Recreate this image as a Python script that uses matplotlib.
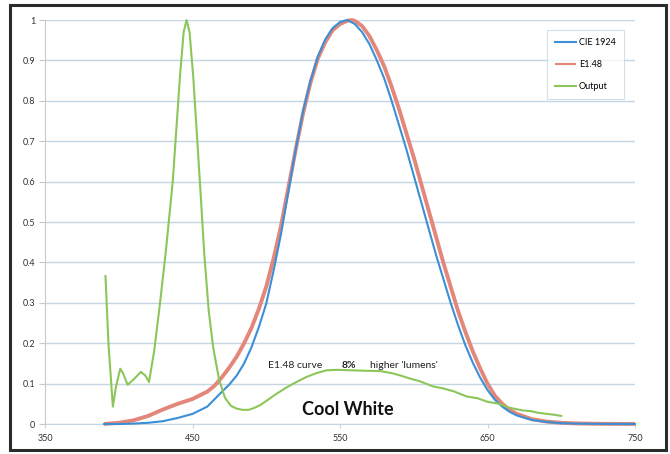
import matplotlib
matplotlib.use("Agg")
import matplotlib.pyplot as plt
from matplotlib.patches import Rectangle
from matplotlib.ticker import FuncFormatter

plt.rcParams['font.family'] = ['Lato', 'DejaVu Sans']

# CIE 1924 photopic curve
cie_wl = [390, 400, 410, 420, 430, 440, 450, 460, 470, 475, 480, 485, 490, 495,
          500, 505, 510, 515, 520, 525, 530, 535, 540, 545, 550, 555, 560, 565,
          570, 575, 580, 585, 590, 595, 600, 605, 610, 615, 620, 625, 630, 635,
          640, 645, 650, 655, 660, 665, 670, 680, 690, 700, 710, 720, 730, 740, 750]
cie_val = [0.0, 0.0, 0.001, 0.003, 0.007, 0.015, 0.025, 0.043, 0.08, 0.098, 0.12,
           0.15, 0.19, 0.24, 0.298, 0.38, 0.47, 0.575, 0.68, 0.775, 0.85, 0.91,
           0.952, 0.98, 0.995, 1.0, 0.99, 0.97, 0.94, 0.9, 0.855, 0.8, 0.74, 0.68,
           0.615, 0.55, 0.485, 0.42, 0.36, 0.3, 0.245, 0.195, 0.152, 0.115, 0.084,
           0.06, 0.043, 0.03, 0.021, 0.01, 0.005, 0.002, 0.001, 0.0005, 0.0002,
           0.0001, 0.0]

# E1.48 curve
e148_wl = [390, 400, 410, 420, 430, 440, 450, 460, 465, 470, 475, 480, 485, 490,
           495, 500, 505, 510, 515, 520, 525, 530, 535, 540, 545, 550, 555, 558,
           560, 565, 570, 575, 580, 585, 590, 595, 600, 605, 610, 615, 620, 625,
           630, 635, 640, 645, 650, 655, 660, 665, 670, 680, 690, 700, 710, 720,
           730, 740, 750]
e148_val = [0.0, 0.003, 0.009, 0.02, 0.036, 0.05, 0.062, 0.08, 0.095, 0.116, 0.14,
            0.167, 0.2, 0.238, 0.285, 0.34, 0.41, 0.49, 0.585, 0.68, 0.77, 0.845,
            0.905, 0.945, 0.975, 0.99, 0.998, 1.0, 0.998, 0.985, 0.96, 0.925,
            0.885, 0.835, 0.78, 0.72, 0.66, 0.595, 0.53, 0.465, 0.4, 0.34, 0.28,
            0.228, 0.18, 0.138, 0.1, 0.07, 0.05, 0.035, 0.025, 0.012, 0.006,
            0.003, 0.0015, 0.0008, 0.0004, 0.0002, 0.0001]

# Cool white LED output spectrum
out_wl = [391, 393, 396, 398, 401, 403, 406, 410, 415, 418, 420.5, 424, 428, 432,
          436.6, 441.5, 444, 446, 448, 450.5, 455, 458, 461, 464, 468, 472, 476,
          480, 484, 488, 492, 496, 500, 507, 514, 520, 527, 534, 541, 548, 557,
          565, 577, 585, 591, 597, 604, 613, 620, 627, 636, 643, 650, 658, 664,
          668, 673, 679, 684, 690, 695, 700]
out_val = [0.366, 0.2, 0.043, 0.09, 0.137, 0.125, 0.097, 0.11, 0.129, 0.12, 0.104,
           0.18, 0.30, 0.43, 0.6, 0.86, 0.97, 1.0, 0.97, 0.86, 0.6, 0.42, 0.28,
           0.19, 0.11, 0.065, 0.045, 0.038, 0.035, 0.035, 0.04, 0.047, 0.057,
           0.075, 0.091, 0.103, 0.116, 0.126, 0.133, 0.134, 0.133, 0.132, 0.131,
           0.126, 0.12, 0.113, 0.106, 0.093, 0.088, 0.081, 0.068, 0.064, 0.055,
           0.05, 0.041, 0.038, 0.034, 0.032, 0.028, 0.025, 0.023, 0.02]

x_ticks = [350, 450, 550, 650, 750]
y_ticks = [0, 0.1, 0.2, 0.3, 0.4, 0.5, 0.6, 0.7, 0.8, 0.9, 1.0]

fig = plt.figure(figsize=(6.7, 4.54), dpi=100)
ax = fig.add_axes([45 / 670, 30 / 454, 590 / 670, 404 / 454])

ax.plot(e148_wl, e148_val, color='#e3877a', lw=2.8, label='E1.48', zorder=3,
        clip_on=False, solid_capstyle='butt')
ax.plot(cie_wl, cie_val, color='#3b8fd6', lw=1.5, label='CIE 1924', zorder=4,
        clip_on=False)
ax.plot(out_wl, out_val, color='#8cc65a', lw=1.5, label='Output', zorder=5,
        clip_on=False)

ax.set_xlim(350, 750)
ax.set_ylim(0, 1)
ax.set_xticks(x_ticks)
ax.set_yticks(y_ticks)
ax.yaxis.set_major_formatter(FuncFormatter(lambda v, p: '%g' % v))

ax.grid(axis='y', color='#c4d5e3', lw=1.0, zorder=0)
ax.set_axisbelow(True)
for s in ['top', 'right']:
    ax.spines[s].set_visible(False)
ax.spines['left'].set_color('#c8c8c8')
ax.spines['bottom'].set_color('#c4d5e3')
ax.tick_params(axis='y', length=4, color='#c8c8c8', labelsize=6.5, labelcolor='#333333', pad=3)
ax.tick_params(axis='x', length=3, color='#c4d5e3', labelsize=6.5, labelcolor='#333333', pad=4)

# legend, same order as the chart
h, l = ax.get_legend_handles_labels()
order = [1, 0, 2]
leg = ax.legend([h[i] for i in order], [l[i] for i in order],
                loc='upper left', bbox_to_anchor=(547 / 670, 1 - 30 / 454),
                bbox_transform=fig.transFigure, fontsize=6.5, frameon=True,
                fancybox=False, handlelength=2.4, handletextpad=0.3,
                labelspacing=1.45, borderpad=0.85, borderaxespad=0)
leg.get_frame().set_edgecolor('#c8d8e4')
leg.get_frame().set_linewidth(0.8)
for ln in leg.get_lines():
    ln.set_linewidth(1.5)

# annotations
ax.text(501, 0.145, 'E1.48 curve', fontsize=7.5, color='#222222', va='center')
ax.text(556, 0.145, '8%', fontsize=7.5, fontweight='bold', color='#222222',
        va='center', ha='center')
ax.text(570, 0.145, "higher 'lumens'", fontsize=7.5, color='#222222', va='center')
ax.text(555, 0.035, 'Cool White', fontsize=13, fontweight='bold', color='#111111',
        va='center', ha='center')

# dark frame around the whole picture
fig.patches.append(Rectangle((10 / 670, 4 / 454), 656 / 670, 445 / 454,
                             transform=fig.transFigure, fill=False,
                             edgecolor='#2b2b2b', lw=2.2))

fig.savefig('out.png', dpi=100)
plt.close(fig)
